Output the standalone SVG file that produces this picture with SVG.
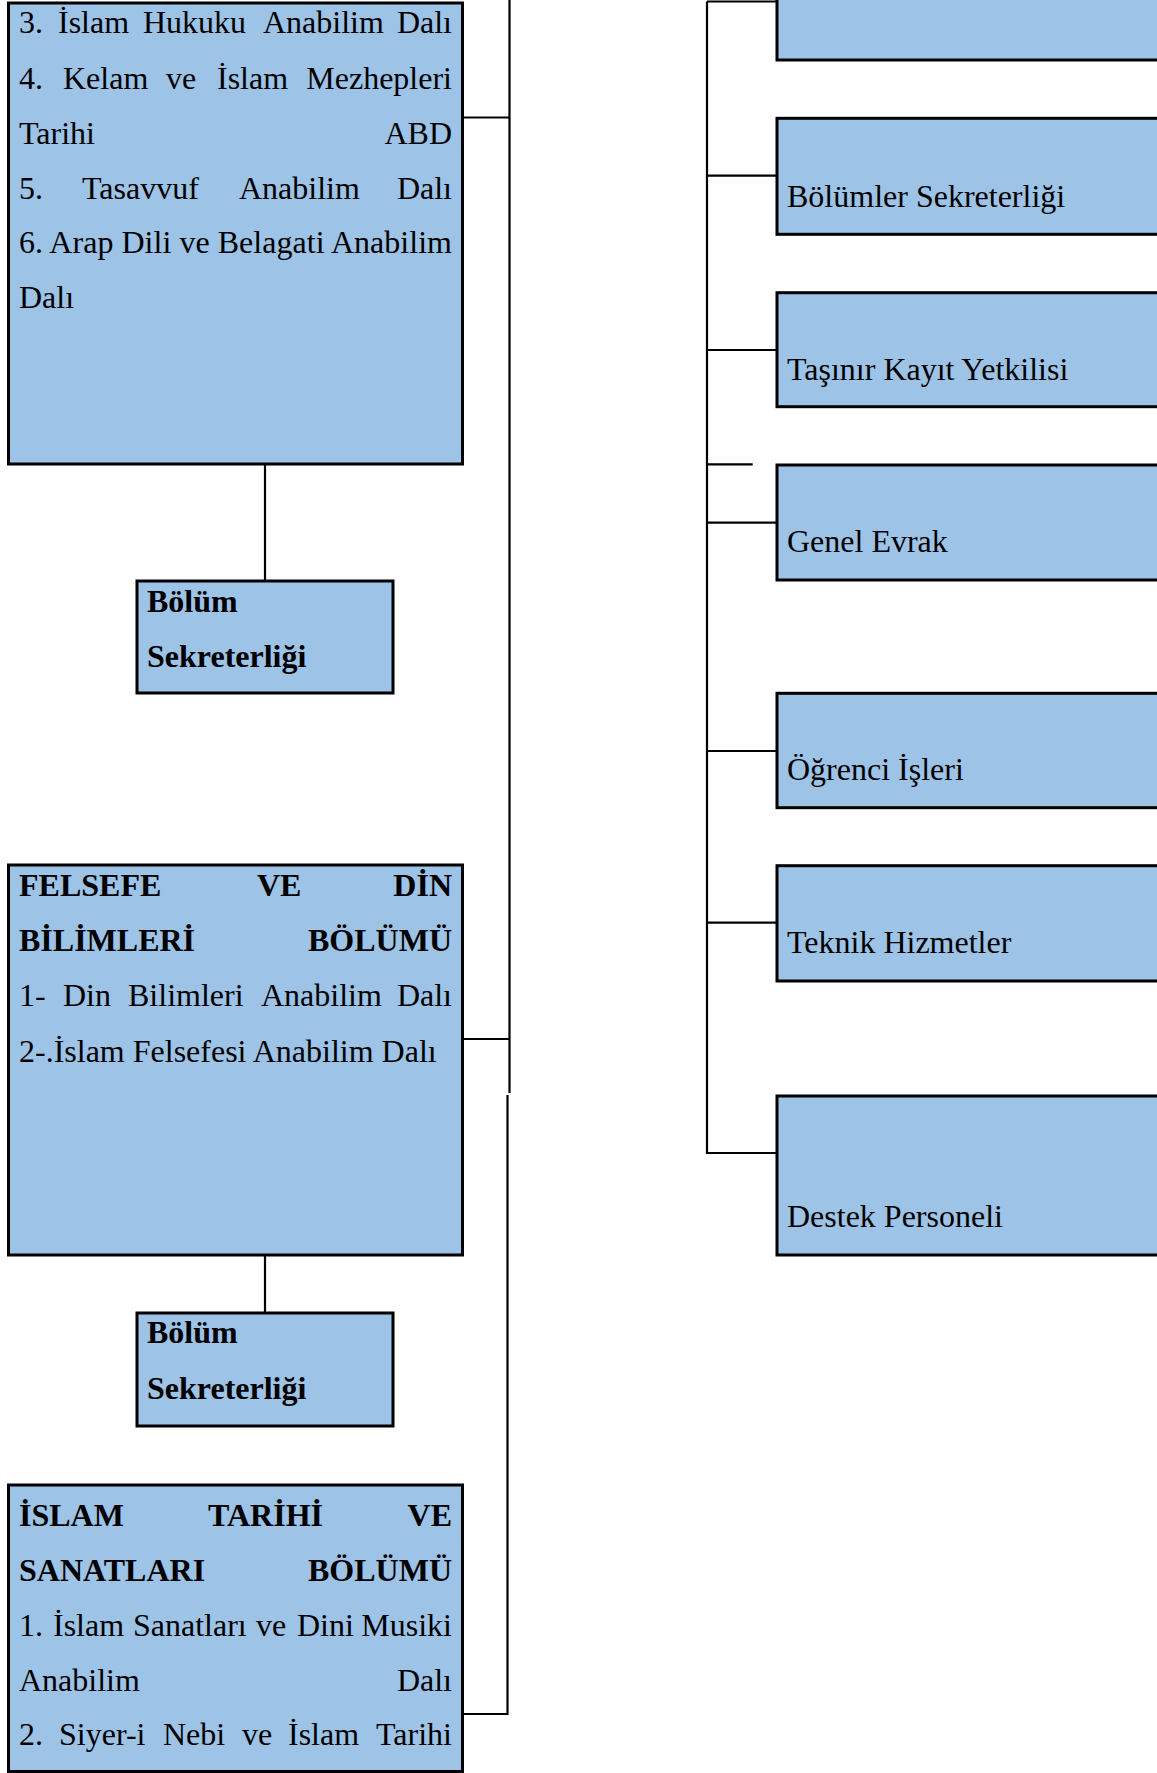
<svg xmlns="http://www.w3.org/2000/svg" width="1157" height="1773" viewBox="0 0 1157 1773">
<style>
.box{fill:#9dc3e6;stroke:#000;stroke-width:3}
.ln{fill:none;stroke:#000;stroke-width:2.2}
text{font-family:"Liberation Serif","Times New Roman",serif;font-size:32px;fill:#000}
.b{font-weight:bold}
.e{text-anchor:end}
</style>
<rect width="1157" height="1773" fill="#fff"/>
<g id="connectors">
<path class="ln" d="M509.5,0 V1093"/>
<path class="ln" d="M507.5,1095 V1714 H463"/>
<path class="ln" d="M463,117.5 H509.5"/>
<path class="ln" d="M463,1039 H509.5"/>
<path class="ln" d="M265,465 V581"/>
<path class="ln" d="M265,1255 V1313"/>
<path class="ln" d="M707,1.5 V1153 H777"/>
<path class="ln" d="M707,1.5 H777"/>
<path class="ln" d="M707,175.7 H777"/>
<path class="ln" d="M707,350 H777"/>
<path class="ln" d="M707,464.3 H752.7"/>
<path class="ln" d="M707,522.7 H777"/>
<path class="ln" d="M707,751 H777"/>
<path class="ln" d="M707,922.7 H777"/>
</g>
<g id="node-bolum1">
<rect class="box" x="8.5" y="3" width="454" height="461"/>
<text y="33"><tspan x="19">3.</tspan><tspan x="58">İslam</tspan><tspan x="143">Hukuku</tspan><tspan x="263">Anabilim</tspan></text>
<text class="e" x="452" y="33">Dalı</text>
<text y="89"><tspan x="19">4.</tspan><tspan x="63">Kelam</tspan><tspan x="166">ve</tspan><tspan x="217">İslam</tspan></text>
<text class="e" x="452" y="89">Mezhepleri</text>
<text x="19" y="144">Tarihi</text>
<text class="e" x="452" y="144">ABD</text>
<text y="199"><tspan x="19">5.</tspan><tspan x="82">Tasavvuf</tspan><tspan x="239">Anabilim</tspan></text>
<text class="e" x="452" y="199">Dalı</text>
<text x="19" y="253" textLength="433" lengthAdjust="spacing">6. Arap Dili ve Belagati Anabilim</text>
<text x="19" y="308">Dalı</text>
</g>
<g id="node-sekreter1">
<rect class="box" x="137" y="581" width="256" height="112"/>
<text class="b" x="147" y="612">Bölüm</text>
<text class="b" x="147" y="667">Sekreterliği</text>
</g>
<g id="node-felsefe">
<rect class="box" x="8.5" y="865" width="454" height="390"/>
<text class="b" y="896"><tspan x="19">FELSEFE</tspan><tspan x="257">VE</tspan></text>
<text class="b e" x="452" y="896">DİN</text>
<text class="b" x="19" y="951">BİLİMLERİ</text>
<text class="b e" x="452" y="951">BÖLÜMÜ</text>
<text y="1006"><tspan x="19">1-</tspan><tspan x="63">Din</tspan><tspan x="128">Bilimleri</tspan><tspan x="261">Anabilim</tspan></text>
<text class="e" x="452" y="1006">Dalı</text>
<text x="19" y="1062">2-.İslam Felsefesi Anabilim Dalı</text>
</g>
<g id="node-sekreter2">
<rect class="box" x="137" y="1313" width="256" height="113"/>
<text class="b" x="147" y="1343">Bölüm</text>
<text class="b" x="147" y="1399">Sekreterliği</text>
</g>
<g id="node-islam-tarihi">
<rect class="box" x="8.5" y="1485" width="454" height="286.5"/>
<text class="b" y="1526"><tspan x="19">İSLAM</tspan><tspan x="208">TARİHİ</tspan></text>
<text class="b e" x="452" y="1526">VE</text>
<text class="b" x="19" y="1581">SANATLARI</text>
<text class="b e" x="452" y="1581">BÖLÜMÜ</text>
<text y="1636"><tspan x="19">1.</tspan><tspan x="53">İslam</tspan><tspan x="133">Sanatları</tspan><tspan x="256">ve</tspan><tspan x="297">Dini</tspan></text>
<text class="e" x="452" y="1636">Musiki</text>
<text x="19" y="1691">Anabilim</text>
<text class="e" x="452" y="1691">Dalı</text>
<text y="1745"><tspan x="19">2.</tspan><tspan x="59">Siyer-i</tspan><tspan x="163">Nebi</tspan><tspan x="242">ve</tspan><tspan x="288">İslam</tspan></text>
<text class="e" x="452" y="1745">Tarihi</text>
</g>
<g id="node-top-right">
<rect class="box" x="777" y="-10" width="500" height="70"/>
</g>
<g id="node-bolumler-sekreterligi">
<rect class="box" x="777" y="118.3" width="500" height="116"/>
<text x="787" y="207">Bölümler Sekreterliği</text>
</g>
<g id="node-tasinir">
<rect class="box" x="777" y="292.7" width="500" height="114"/>
<text x="787" y="380">Taşınır Kayıt Yetkilisi</text>
</g>
<g id="node-genel-evrak">
<rect class="box" x="777" y="465" width="500" height="115"/>
<text x="787" y="552">Genel Evrak</text>
</g>
<g id="node-ogrenci">
<rect class="box" x="777" y="693.3" width="500" height="114.4"/>
<text x="787" y="780">Öğrenci İşleri</text>
</g>
<g id="node-teknik">
<rect class="box" x="777" y="865.7" width="500" height="115.3"/>
<text x="787" y="953">Teknik Hizmetler</text>
</g>
<g id="node-destek">
<rect class="box" x="777" y="1096" width="500" height="159"/>
<text x="787" y="1227">Destek Personeli</text>
</g>
</svg>
